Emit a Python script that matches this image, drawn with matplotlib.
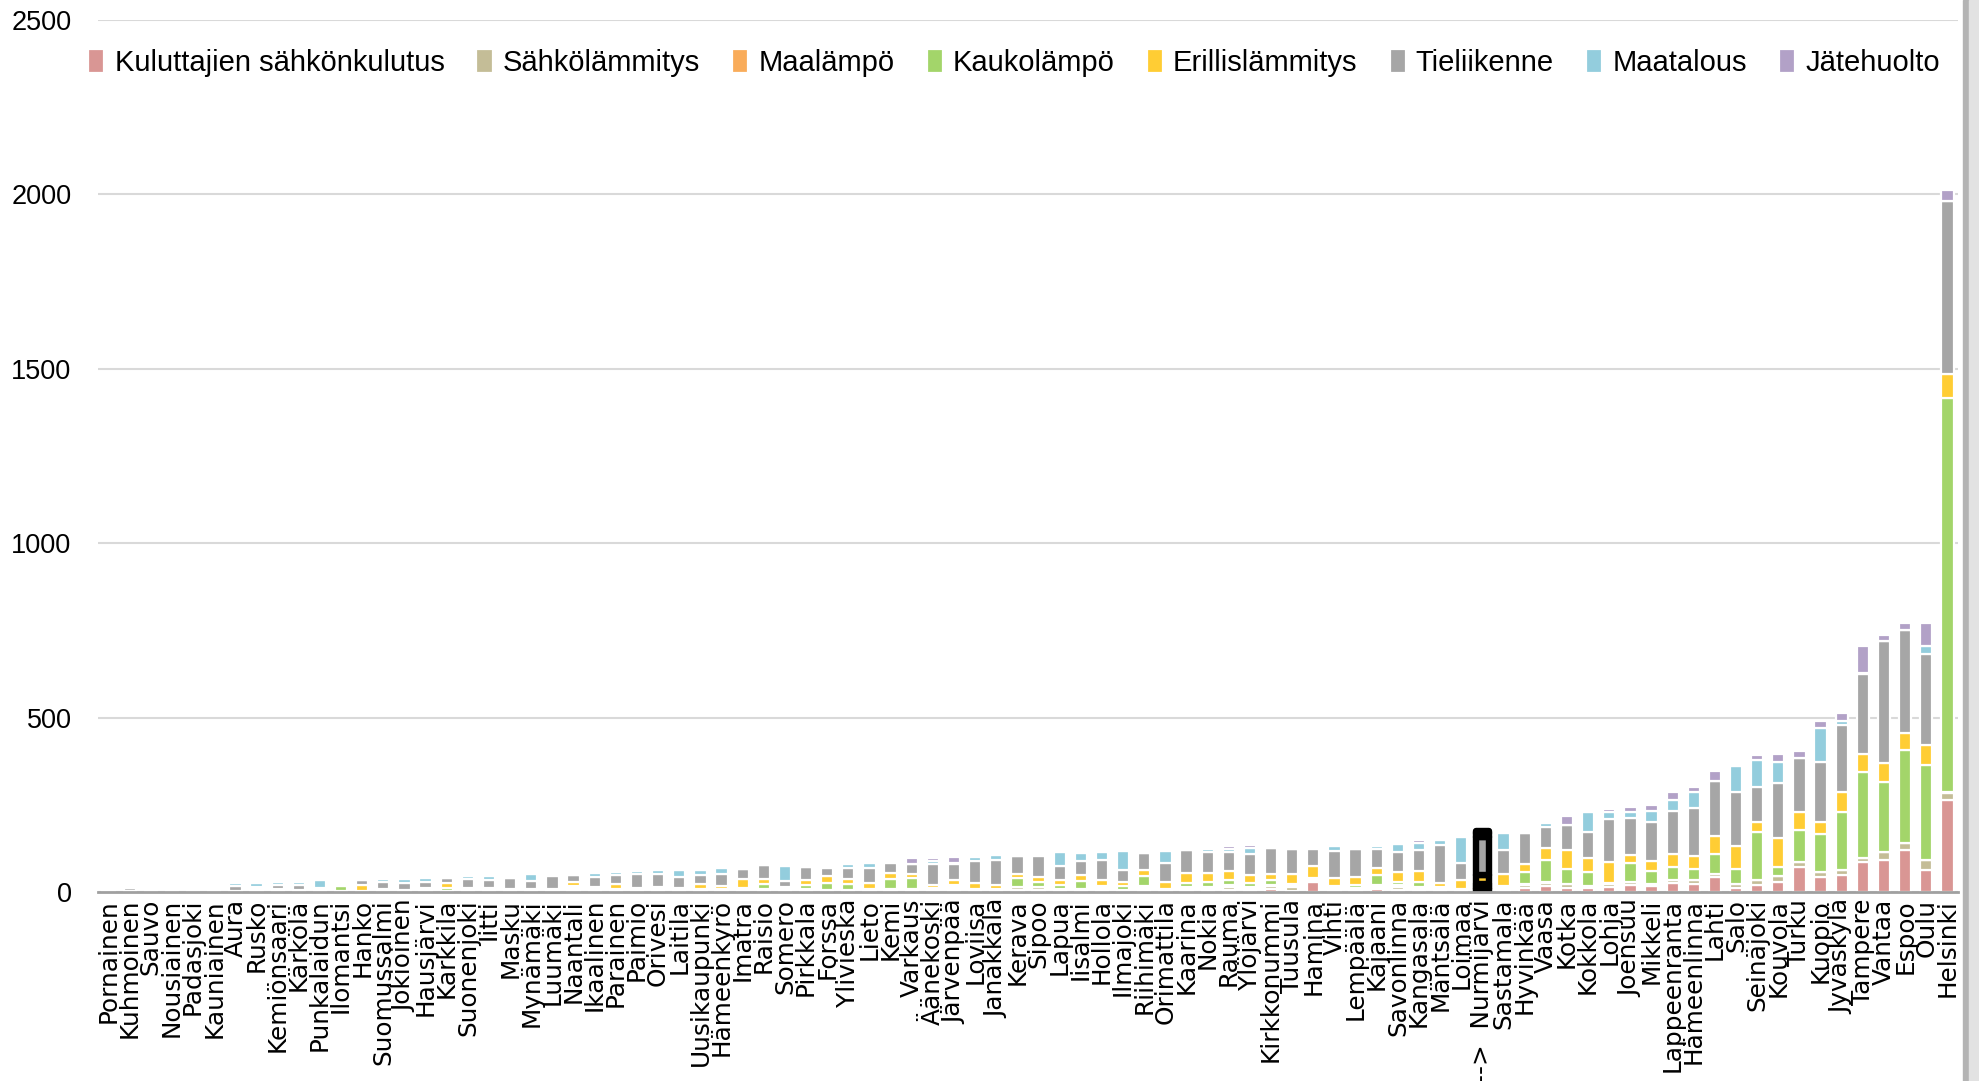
import numpy as np
import matplotlib
matplotlib.use('Agg')
import matplotlib.pyplot as plt
from matplotlib.patches import Rectangle

# Municipalities, smallest to largest total emissions
municipalities = ['Pornainen', 'Kuhmoinen', 'Sauvo', 'Nousiainen', 'Padasjoki', 'Kauniainen', 'Aura', 'Rusko',
                  'Kemiönsaari', 'Kärkölä', 'Punkalaidun', 'Ilomantsi', 'Hanko', 'Suomussalmi', 'Jokioinen',
                  'Hausjärvi', 'Karkkila', 'Suonenjoki', 'Iitti', 'Masku', 'Mynämäki', 'Luumäki', 'Naantali',
                  'Ikaalinen', 'Parainen', 'Paimio', 'Orivesi', 'Laitila', 'Uusikaupunki', 'Hämeenkyrö', 'Imatra',
                  'Raisio', 'Somero', 'Pirkkala', 'Forssa', 'Ylivieska', 'Lieto', 'Kemi', 'Varkaus', 'Äänekoski',
                  'Järvenpää', 'Loviisa', 'Janakkala', 'Kerava', 'Sipoo', 'Lapua', 'Iisalmi', 'Hollola', 'Ilmajoki',
                  'Riihimäki', 'Orimattila', 'Kaarina', 'Nokia', 'Rauma', 'Ylöjärvi', 'Kirkkonummi', 'Tuusula',
                  'Hamina', 'Vihti', 'Lempäälä', 'Kajaani', 'Savonlinna', 'Kangasala', 'Mäntsälä', 'Loimaa',
                  'Nurmijärvi', 'Sastamala', 'Hyvinkää', 'Vaasa', 'Kotka', 'Kokkola', 'Lohja', 'Joensuu', 'Mikkeli',
                  'Lappeenranta', 'Hämeenlinna', 'Lahti', 'Salo', 'Seinäjoki', 'Kouvola', 'Turku', 'Kuopio',
                  'Jyväskylä', 'Tampere', 'Vantaa', 'Espoo', 'Oulu', 'Helsinki']
highlight = 'Nurmijärvi'

# Emissions per sector (kt CO2-e)
kulutussahko = [0.5, 1, 2, 2, 1, 2, 1, 2, 2, 1, 1, 1, 1, 2, 1, 1, 1, 2, 2, 1, 2, 2, 5, 2, 2, 3, 2, 2, 2, 2,
                3, 3, 2, 2, 2, 2, 3, 3, 3, 3, 6, 3, 2, 6, 5, 4, 4, 4, 3, 6, 3, 5, 5, 6, 4, 9, 3, 30, 4, 4,
                8, 6, 5, 3, 3, 8, 6, 11, 18, 11, 11, 14, 19, 16, 26, 24, 43, 11, 21, 29, 71, 43, 48, 86, 93, 119,
                62, 264]
sahkolammitys = [0.3, 1, 1, 1, 1, 1, 1, 2, 2, 1, 1, 1, 1, 2, 1, 2, 0.5, 2, 2, 1, 2, 2, 3, 3, 2, 3, 3, 2, 2, 2,
                 3, 4, 4, 3, 3, 2, 3, 3, 3, 3, 4, 2, 2, 8, 8, 4, 4, 4, 2, 6, 3, 5, 5, 8, 5, 7, 10, 3, 4, 4,
                 6, 8, 6, 4, 3, 4, 4, 8, 8, 13, 7, 10, 9, 8, 7, 11, 9, 13, 12, 16, 15, 14, 14, 12, 21, 21,
                 30, 20]
maalampo = [0.2, 0, 0.5, 0.5, 0.5, 1, 0.5, 1, 1, 1, 1, 1, 1, 1, 1, 1, 1, 2, 2, 1, 1, 2, 5, 2, 2, 2, 2, 2, 2, 2,
            3, 3, 2, 3, 2, 3, 3, 4, 3, 3, 3, 1, 1, 0, 0, 0, 2, 3, 2, 4, 2, 3, 4, 5, 4, 3, 3, 3, 4, 3,
            5, 5, 4, 3, 2, 4, 3, 4, 4, 0, 0, 3, 0, 0, 0, 0, 0, 0, 0, 0, 0, 0, 0, 0, 0, 0, 0, 2]
kaukolampo = [0.3, 1, 1, 1, 1, 4, 0.5, 1, 1, 1, 1, 15, 1, 1, 1, 2, 10, 2, 2, 1, 2, 1, 4, 2, 2, 2, 2, 2, 2, 2,
              3, 12, 2, 11, 19, 16, 0, 27, 31, 3, 6, 3, 3, 27, 17, 12, 22, 5, 9, 30, 2, 12, 16, 14, 12, 15, 8, 3, 4, 9,
              31, 11, 15, 3, 2, 6, 4, 34, 61, 41, 39, 0, 55, 35, 38, 32, 58, 43, 140, 28, 93, 108, 167, 245, 202, 268,
              273, 1129]
erillislammitys = [0.5, 1, 2, 1, 1, 3, 1, 4, 2, 2, 2, 4, 17, 3, 2, 5, 12, 3, 3, 5, 2, 2, 12, 5, 16, 2, 4, 4, 16, 9,
                   24, 15, 3, 14, 19, 14, 17, 17, 13, 8, 16, 16, 12, 10, 14, 14, 16, 19, 14, 17, 19, 29, 25, 27, 25, 19,
                   27, 36, 25, 23, 19, 28, 29, 13, 25, 27, 35, 24, 35, 54, 41, 58, 22, 30, 37, 36, 50, 64, 29, 82, 50,
                   37, 57, 52, 53, 49, 57, 69]
tieliikenne = [1.5, 7, 3, 5, 7, 4, 14, 4, 12, 13, 5, 6, 14, 21, 19, 17, 16, 27, 24, 31, 23, 38, 19, 28, 25, 40, 40,
               30, 26, 36, 29, 39, 19, 40, 23, 31, 44, 30, 28, 60, 46, 63, 71, 52, 58, 40, 41, 56, 34, 50, 53, 67, 60,
               54, 60, 72, 71, 47, 76, 80, 54, 58, 60, 108, 48, 108, 69, 89, 60, 72, 74, 123, 106, 113, 124, 137, 159,
               155, 98, 157, 154, 172, 193, 231, 351, 294, 261, 496]
maatalous = [0.5, 0.5, 4, 1, 1, 2, 9, 12, 10, 11, 22, 1, 0, 7, 12, 13, 0, 8, 12, 0, 19, 6, 0, 13, 9, 9, 11, 22, 13, 17,
             2, 0, 43, 0, 7, 13, 14, 3, 0, 8, 3, 13, 14, 0, 5, 40, 23, 23, 53, 0, 35, 0, 8, 8, 15, 0, 0, 7, 16, 0,
             8, 21, 21, 15, 74, 12, 47, 0, 11, 2, 57, 22, 19, 30, 33, 48, 0, 76, 78, 62, 2, 96, 11, 1, 1, 1, 22, 2]
jatehuolto = [0.2, 0, 0.5, 0, 0, 3, 0, 0, 0, 0, 0, 1, 0, 0, 0, 0, 0, 0, 0, 0, 0, 0, 0, 0, 0, 0, 0, 0, 0, 0,
              0, 0, 0, 0, 0, 0, 0, 6, 16, 10, 15, 1, 0, 0, 0, 0, 0, 0, 0, 0, 0, 0, 5, 9, 9, 0, 0, 0, 6, 0,
              8, 0, 9, 0, 0, 5, 0, 0, 0, 26, 0, 8, 14, 16, 23, 12, 29, 0, 16, 23, 18, 20, 23, 78, 15, 18, 67, 32]

sectors = ['Kuluttajien sähkönkulutus', 'Sähkölämmitys', 'Maalämpö', 'Kaukolämpö',
           'Erillislämmitys', 'Tieliikenne', 'Maatalous', 'Jätehuolto']
colors = ['#d99694', '#c4bd97', '#f9ac5a', '#a3d56a', '#ffcd34', '#a6a6a6', '#93cddd', '#b2a1c7']
series = [kulutussahko, sahkolammitys, maalampo, kaukolampo, erillislammitys, tieliikenne, maatalous, jatehuolto]

plt.rcParams['font.family'] = ['Liberation Sans', 'DejaVu Sans']

fig = plt.figure(figsize=(19.79, 10.81), dpi=100)
ax = fig.add_axes([98 / 1979, 189 / 1081, 1860 / 1979, 872 / 1081])

x = np.arange(len(municipalities))
hl = municipalities.index(highlight)
bottom = np.zeros(len(municipalities))
for name, vals, col in zip(sectors, series, colors):
    vals = np.array(vals, dtype=float)
    bars = ax.bar(x, vals, 0.58, bottom=bottom, color=col, edgecolor='white', linewidth=1.6, label=name, zorder=2)
    # outline the highlighted municipality in black
    bars[hl].set_edgecolor('black')
    bars[hl].set_linewidth(4.6)
    bars[hl].set_joinstyle('round')
    bars[hl].set_zorder(3)
    bottom += vals

ax.set_xlim(-0.5, len(municipalities) - 0.5)
ax.set_ylim(0, 2500)
ax.set_yticks(range(0, 2501, 500))
ax.yaxis.grid(True, color='#d9d9d9', linewidth=1.5)
ax.set_axisbelow(True)
for side in ['top', 'right', 'left']:
    ax.spines[side].set_visible(False)
ax.spines['bottom'].set_color('#a0a0a0')
ax.spines['bottom'].set_linewidth(2)
ax.spines['bottom'].set_zorder(4)

labels = ['-->  ' + m if m == highlight else m for m in municipalities]
ax.set_xticks(x)
ax.set_xticklabels(labels, rotation=90, fontsize=17.8, family='DejaVu Sans')
ax.tick_params(axis='x', length=0, pad=5)
ax.tick_params(axis='y', length=0, pad=19, labelsize=19.5)

fig.legend(loc='center', bbox_to_anchor=(1014 / 1979, 1 - 63 / 1081), ncol=8, frameon=False,
           fontsize=21, handlelength=0.55, handleheight=0.85, handletextpad=0.35, columnspacing=1.1)

# shadow along the right edge of the chart frame
fig.patches.append(Rectangle((1963 / 1979, 0), 6 / 1979, 1, transform=fig.transFigure, color='#b4b4b4', zorder=0))
fig.patches.append(Rectangle((1969 / 1979, 0), 10 / 1979, 1, transform=fig.transFigure, color='#e2e2e2', zorder=0))

fig.savefig('out.png', dpi=100)
